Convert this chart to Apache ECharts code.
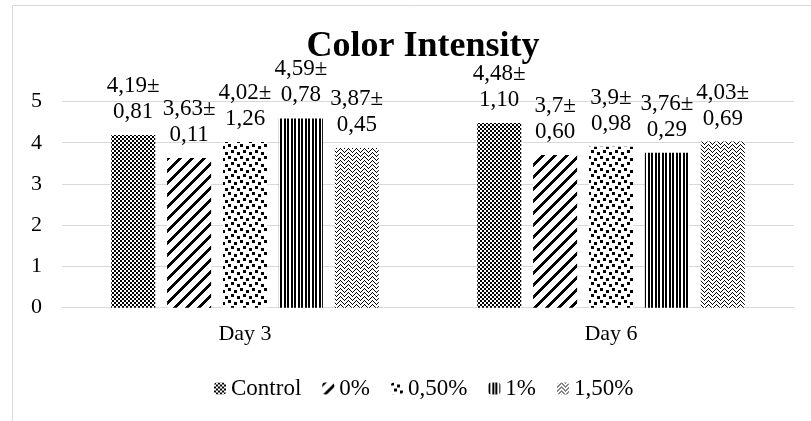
<!DOCTYPE html>
<html>
<head>
<meta charset="utf-8">
<script src="https://cdn.jsdelivr.net/npm/echarts@6/dist/echarts.min.js"></script>
<style>
  html, body { margin: 0; padding: 0; background: #fff; }
  #chart { width: 811px; height: 421px; }
</style>
</head>
<body>
<div id="chart"></div>
<script>
const categories = ['Day 3', 'Day 6'];
const seriesNames = ['Control', '0%', '0,50%', '1%', '1,50%'];
const meanControl = [4.19, 4.48];
const mean0 = [3.63, 3.7];
const mean05 = [4.02, 3.9];
const mean1 = [4.59, 3.76];
const mean15 = [3.87, 4.03];
const sdControl = [0.81, 1.10];
const sd0 = [0.11, 0.60];
const sd05 = [1.26, 0.98];
const sd1 = [0.78, 0.29];
const sd15 = [0.45, 0.69];
const yTicks = [0, 1, 2, 3, 4, 5];

const means = [meanControl, mean0, mean05, mean1, mean15];
const sds = [sdControl, sd0, sd05, sd1, sd15];

function tile(w, h, fn) {
  const c = document.createElement('canvas');
  c.width = w; c.height = h;
  const ctx = c.getContext('2d');
  ctx.fillStyle = '#fff';
  ctx.fillRect(0, 0, w, h);
  ctx.fillStyle = '#000';
  for (let y = 0; y < h; y++) for (let x = 0; x < w; x++) if (fn(x, y)) ctx.fillRect(x, y, 1, 1);
  return c;
}
const patterns = [
  tile(4, 4, (x, y) => ((x >> 1) + (y >> 1)) % 2 === 0),
  tile(12, 12, (x, y) => ((x + y) % 12) < 4),
  tile(12, 12, (x, y) => {
    const sq = [[0,0],[6,2],[3,6],[9,8]];
    return sq.some(([a,b]) => x >= a && x < a + 3 && y >= b && y < b + 3);
  }),
  tile(7, 1, (x, y) => x === 0 || x === 1 || x === 4 || x === 5),
  tile(8, 8, (x, y) => {
    const z = Math.abs(x - 4);
    return y === z || y === (z + 4) % 8;
  })
];

const fmt = v => String(v).replace('.', ',');
const fmtSd = v => v.toFixed(2).replace('.', ',');

const chart = echarts.init(document.getElementById('chart'), null, { renderer: 'canvas' });
const fontFam = '"Liberation Serif", "Times New Roman", serif';

chart.setOption({
  animation: false,
  backgroundColor: '#fff',
  graphic: [{
    type: 'rect',
    shape: { x: 12.5, y: 5.5, width: 900, height: 500 },
    style: { fill: 'none', stroke: '#d9d9d9', lineWidth: 1 },
    silent: true, z: -10
  }],
  title: {
    text: 'Color Intensity',
    left: 418,
    textAlign: 'center',
    top: 24,
    textStyle: { fontFamily: fontFam, fontSize: 36, fontWeight: 'bold', color: '#000' }
  },
  grid: { left: 62, right: 17, top: 101.5, bottom: 113.3, containLabel: false },
  legend: {
    data: seriesNames,
    top: 372,
    left: 209,
    itemWidth: 12,
    itemHeight: 12,
    itemGap: 21,
    textStyle: { fontFamily: fontFam, fontSize: 23, color: '#000' }
  },
  xAxis: {
    type: 'category',
    data: categories,
    axisLine: { lineStyle: { color: '#d9d9d9' } },
    axisTick: { show: false },
    axisLabel: { fontFamily: fontFam, fontSize: 22, color: '#000', margin: 16 }
  },
  yAxis: {
    type: 'value',
    min: 0, max: 5, interval: 1,
    axisLine: { show: false },
    axisTick: { show: false },
    splitLine: { lineStyle: { color: '#d9d9d9' } },
    axisLabel: { fontFamily: fontFam, fontSize: 22, color: '#000', margin: 20,
      formatter: v => yTicks.includes(v) ? String(v) : '' }
  },
  series: seriesNames.map((name, i) => ({
    name,
    type: 'bar',
    barWidth: 44,
    barGap: '27%',
    data: means[i],
    itemStyle: { color: { image: patterns[i], repeat: 'repeat' } },
    label: {
      show: true,
      position: 'top',
      distance: 10,
      fontFamily: fontFam,
      fontSize: 23,
      lineHeight: 26,
      color: '#000',
      formatter: p => fmt(p.value) + '±\n' + fmtSd(sds[i][p.dataIndex])
    }
  }))
});
</script>
</body>
</html>
